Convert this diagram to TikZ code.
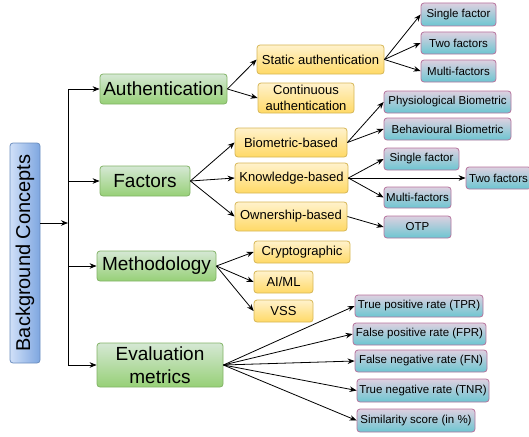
\documentclass[tikz,border=0pt]{standalone}
\usepackage{fontspec}
\setmainfont{Liberation Sans}
\usetikzlibrary{arrows.meta}
\definecolor{bluetop}{HTML}{D0E0F8}
\definecolor{bluebot}{HTML}{7EA6E0}
\definecolor{blueline}{HTML}{6C8EBF}
\definecolor{greentop}{HTML}{D5E8D4}
\definecolor{greenbot}{HTML}{97D077}
\definecolor{greenline}{HTML}{82B366}
\definecolor{yeltop}{HTML}{FFF2CC}
\definecolor{yelbot}{HTML}{FFD966}
\definecolor{yelline}{HTML}{D6B656}
\definecolor{tealtop}{HTML}{DDD0E0}
\definecolor{tealbot}{HTML}{6CC6D1}
\definecolor{tealline}{HTML}{B5739D}
\tikzset{
  box/.style={rounded corners=3pt, inner sep=0pt, align=center, line width=0.8pt},
  rootbox/.style={box, draw=blueline, left color=bluetop, right color=bluebot},
  mainbox/.style={box, draw=greenline, top color=greentop, bottom color=greenbot,
    font=\fontsize{19}{23}\selectfont},
  subbox/.style={box, draw=yelline, top color=yeltop, bottom color=yelbot,
    font=\fontsize{13}{16.5}\selectfont},
  leafbox/.style={box, draw=tealline, top color=tealtop, bottom color=tealbot,
    font=\fontsize{11.5}{13}\selectfont},
  arr/.style={-{Stealth[length=7pt,width=5.5pt]}, line width=0.8pt, black},
  ln/.style={line width=0.8pt, black}
}
\begin{document}
\begin{tikzpicture}[x=1pt,y=-1pt]
\useasboundingbox (0,0) rectangle (529,436);
\begin{scope}
\clip (0,0) rectangle (529,436);
% root
\node[rootbox, minimum width=30pt, minimum height=220pt] (bg) at (25,253) {};
\node[rotate=90, font=\fontsize{20}{22}\selectfont] (bgt) at (bg.center) {Background Concepts};
% main
\node[mainbox, minimum width=127pt, minimum height=30pt] (auth) at (163.5,89) {Authentication};
\node[mainbox, minimum width=90pt, minimum height=30pt] (fact) at (145,181) {Factors};
\node[mainbox, minimum width=119pt, minimum height=30pt] (meth) at (156.5,266) {Methodology};
\node[mainbox, minimum width=126pt, minimum height=44pt] (eval) at (160,365) {Evaluation\\metrics};
% sub
\node[subbox, minimum width=127pt, minimum height=29pt] (static) at (320.5,59.5) {Static authentication};
\node[subbox, minimum width=96pt, minimum height=30pt] (cont) at (306,98) {Continuous\\authentication};
\node[subbox, minimum width=112pt, minimum height=29pt] (bio) at (291,142.5) {Biometric-based};
\node[subbox, minimum width=113pt, minimum height=30pt] (know) at (291.5,178) {Knowledge-based};
\node[subbox, minimum width=112pt, minimum height=29pt] (own) at (291,216.5) {Ownership-based};
\node[subbox, minimum width=96pt, minimum height=22pt] (crypto) at (302,252) {Cryptographic};
\node[subbox, minimum width=59pt, minimum height=22pt] (aiml) at (283.5,282) {AI/ML};
\node[subbox, minimum width=59pt, minimum height=22pt] (vss) at (283.5,311) {VSS};
% leaves
\node[leafbox, minimum width=75pt, minimum height=23pt] (sf1) at (458.5,14.5) {Single factor};
\node[leafbox, minimum width=75pt, minimum height=22pt] (tf1) at (458.5,43) {Two factors};
\node[leafbox, minimum width=75pt, minimum height=22pt] (mf1) at (458.5,71) {Multi-factors};
\node[leafbox, minimum width=127pt, minimum height=22pt] (phys) at (447.5,102) {Physiological Biometric};
\node[leafbox, minimum width=127pt, minimum height=22pt] (behav) at (447.5,129) {Behavioural Biometric};
\node[leafbox, minimum width=75pt, minimum height=22pt] (sf2) at (421.5,159) {Single factor};
\node[leafbox, minimum width=65pt, minimum height=22pt] (tf2) at (498.5,178) {Two factors};
\node[leafbox, minimum width=67pt, minimum height=21pt] (mf2) at (417.5,197.5) {Multi-factors};
\node[leafbox, minimum width=67pt, minimum height=22pt] (otp) at (417.5,227) {OTP};
\node[leafbox, minimum width=128pt, minimum height=22pt] (tpr) at (419,306) {True positive rate (TPR)};
\node[leafbox, minimum width=133pt, minimum height=22pt] (fpr) at (419.5,334) {False positive rate (FPR)};
\node[leafbox, minimum width=132pt, minimum height=22pt] (fnr) at (421,361) {False negative rate (FN)};
\node[leafbox, minimum width=132pt, minimum height=23pt] (tnr) at (423,390.5) {True negative rate (TNR)};
\node[leafbox, minimum width=118pt, minimum height=23pt] (sim) at (416,420.5) {Similarity score (in \%)};
% trunk
\coordinate (trunk) at (68,223);
\draw[ln] (auth.west -| trunk) -- (eval.west -| trunk);
\draw[arr] (bg.east |- trunk) -- (trunk);
\foreach \n in {auth,fact,meth,eval} \draw[arr] (\n.west -| trunk) -- (\n.west);
% branches
\foreach \a/\b in {auth/static, auth/cont, static/sf1, static/tf1, static/mf1,
  fact/bio, fact/know, fact/own, bio/phys, bio/behav, know/sf2, know/tf2, know/mf2,
  own/otp, meth/crypto, meth/aiml, meth/vss, eval/tpr, eval/fpr, eval/fnr, eval/tnr, eval/sim}
  \draw[arr] (\a.east) -- (\b.west);
\end{scope}
\end{tikzpicture}
\end{document}
